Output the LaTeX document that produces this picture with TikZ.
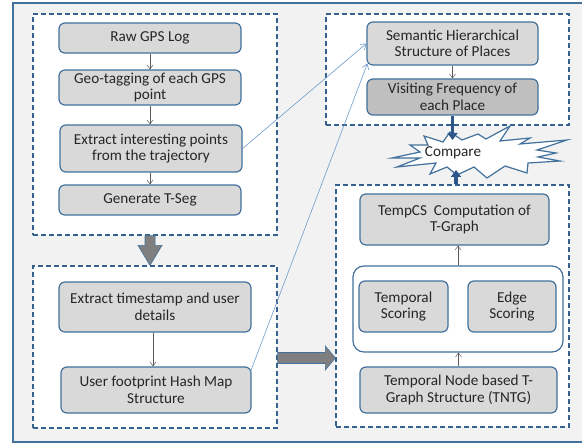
\documentclass[tikz,border=0pt]{standalone}
\usepackage{fontspec}
\setmainfont{Carlito}
\usetikzlibrary{arrows.meta,calc}
\definecolor{bgc}{HTML}{F2F2F2}
\definecolor{outerc}{HTML}{41719C}
\definecolor{bordc}{HTML}{41719C}
\definecolor{dashc}{HTML}{35618F}
\definecolor{nodefill}{HTML}{D9D9D9}
\definecolor{visitfill}{HTML}{BFBFBF}
\definecolor{thinblue}{HTML}{6E9BCB}
\definecolor{thickblue}{HTML}{2F5689}
\definecolor{fatgray}{HTML}{7F7F7F}
\definecolor{arrgray}{HTML}{595959}
\tikzset{
  dbox/.style={draw=dashc, fill=white, line width=1.3pt, dash pattern=on 5pt off 3pt, inner sep=0pt},
  pbox/.style={draw=bordc, fill=nodefill, line width=1.2pt, rounded corners=6pt, align=center,
    inner sep=1pt, text=black!85, font=\fontsize{15.2}{16.5}\selectfont},
  thinarrow/.style={draw=arrgray, line width=0.5pt, -{Straight Barb[length=4pt,width=6pt]}},
  bluethin/.style={draw=thinblue, line width=0.6pt, -{Straight Barb[length=5pt,width=7pt]}},
  bluearrow/.style={draw=thickblue, line width=3.5pt, -{Triangle[width=10pt,length=7pt]}},
  fatarrow/.style={fill=fatgray, draw=bordc, line width=0.6pt},
  burst/.style={fill=white, draw=bordc, line width=1.2pt, line join=miter},
}
\begin{document}
\begin{tikzpicture}[x=1pt,y=-1pt]
\useasboundingbox (0,0) rectangle (582,444);
\clip (0,0) rectangle (582,444);
\fill[white] (0,0) rectangle (582,444);
\draw[fill=bgc, draw=outerc, line width=1.5pt] (13,3) rectangle (610,442);

% dashed group boxes
\node[dbox, minimum width=244pt, minimum height=221pt] (boxA) at (155,124.5) {};
\node[dbox, minimum width=244pt, minimum height=162pt] (boxB) at (155,347) {};
\node[dbox, minimum width=243pt, minimum height=111pt] (boxC) at (447.5,69.5) {};
\node[dbox, minimum width=233pt, minimum height=242pt] (boxD) at (452.5,306) {};

% left column
\node[pbox, minimum width=182pt, minimum height=30pt] (raw) at (150,38) {Raw GPS Log};
\node[pbox, minimum width=182pt, minimum height=35pt] (geo) at (150,87.5) {Geo-tagging of each GPS\\point};
\node[pbox, minimum width=182pt, minimum height=47pt] (extract) at (151,148.5) {Extract interesting points\\from the trajectory};
\node[pbox, minimum width=182pt, minimum height=30pt] (tseg) at (150,200) {Generate T-Seg};
\node[pbox, minimum width=192pt, minimum height=50pt] (stamp) at (155,307) {Extract timestamp and user\\details};
\node[pbox, minimum width=190pt, minimum height=46pt] (foot) at (156,390) {User footprint Hash Map\\Structure};

% right column
\node[pbox, minimum width=171pt, minimum height=43pt] (sem) at (452.5,43.5) {Semantic Hierarchical\\Structure of Places};
\node[pbox, fill=visitfill, minimum width=171pt, minimum height=36pt] (visit) at (452.5,97) {Visiting Frequency of\\each Place};
\node[pbox, minimum width=189pt, minimum height=51pt] (tempcs) at (454.5,219.5) {TempCS~ Computation of\\T-Graph};
\node[pbox, fill=white, rounded corners=11pt, minimum width=210pt, minimum height=86pt] (cont) at (458,309) {};
\node[pbox, minimum width=89pt, minimum height=51pt] (temps) at (403.5,306.5) {Temporal\\Scoring};
\node[pbox, minimum width=88pt, minimum height=51pt] (edges) at (512,306.5) {Edge\\Scoring};
\node[pbox, minimum width=197pt, minimum height=46pt] (tntg) at (458.5,390) {Temporal Node based T-\\Graph Structure (TNTG)};

% compare starburst
\draw[burst] (392,158) -- (420,152) -- (410,145) -- (428,145) -- (424,136) -- (443,142) -- (450,132)
  -- (462,140) -- (478,134) -- (486,139) -- (510,126) -- (500,141) -- (530,138) -- (520,144)
  -- (567,140) -- (537,150) -- (556,153) -- (538,157) -- (560,161) -- (528,163) -- (527,173)
  -- (505,166) -- (487,178) -- (474,167) -- (457,175) -- (447,167) -- (430,174) -- (436,163)
  -- (397,167) -- (420,158) -- cycle;
\node[font=\fontsize{15.2}{16.5}\selectfont, text=black!85, inner sep=1pt] (cmp) at (453,153) {Compare};
\coordinate (cmpTop) at (452.5,140);
\coordinate (cmpBot) at (456,170);

% thin arrows
\draw[thinarrow] (raw.south) -- (geo.north);
\draw[thinarrow] (geo.south) -- (geo.south |- extract.north);
\draw[thinarrow] (extract.south -| geo.south) -- (geo.south |- tseg.north);
\draw[thinarrow] ([xshift=-2pt]stamp.south) -- ([xshift=-2pt]stamp.south |- foot.north);
\draw[thinarrow] (visit.north |- sem.south) -- (visit.north);
\draw[thinarrow] (tntg.north) -- (tntg.north |- cont.south);
\draw[thinarrow] (cont.north) -- (cont.north |- tempcs.south);

% thin blue links
\draw[bluethin] (extract.east) -- (sem.west);
\draw[bluethin] ($(foot.north east)+(-1,5)$) -- ($(sem.south west)+(1,-2)$);

% thick blue arrows to compare
\draw[bluearrow] (visit.south -| cmpTop) -- (cmpTop);
\draw[bluearrow] (cmpBot |- boxD.north) -- (cmpBot);

% fat gray arrows
\coordinate (s1) at ([xshift=-5pt]boxA.south);
\coordinate (e1) at ([xshift=-5pt]boxB.north);
\draw[fatarrow] ($(s1)+(-5,0)$) -- ($(e1)+(-5,-20)$) -- ($(e1)+(-12,-20)$) -- (e1)
  -- ($(e1)+(12,-20)$) -- ($(e1)+(5,-20)$) -- ($(s1)+(5,0)$) -- cycle;
\coordinate (s2) at (boxB.east |- 0,358);
\coordinate (e2) at (boxD.west |- 0,358);
\draw[fatarrow] ($(s2)+(0,-5.5)$) -- ($(e2)+(-10,-5.5)$) -- ($(e2)+(-10,-12)$) -- (e2)
  -- ($(e2)+(-10,12)$) -- ($(e2)+(-10,5.5)$) -- ($(s2)+(0,5.5)$) -- cycle;
\end{tikzpicture}
\end{document}
